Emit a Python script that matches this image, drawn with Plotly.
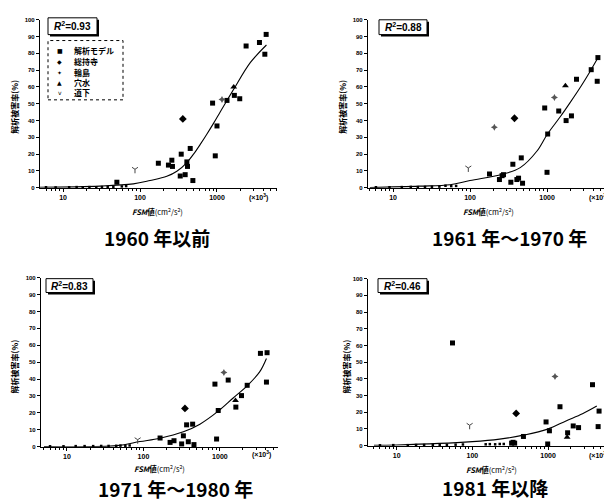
import plotly.graph_objects as go

# ---------------- data ----------------
panel_titles = ["1960 年以前", "1961 年～1970 年", "1971 年～1980 年", "1981 年以降"]
r2_labels = ["0.93", "0.88", "0.83", "0.46"]
series_names = ["解析モデル", "総持寺", "輪島", "穴水", "道下"]
x_tick_vals = [10, 100, 1000]
x_tick_text = ["10", "100", "1000"]
y_tick_vals = [0, 10, 20, 30, 40, 50, 60, 70, 80, 90, 100]

# panel 1 : 1960 and before
p1_model_x = [50, 173, 234, 259, 264, 343, 333, 386, 406, 414, 449, 486, 877, 950, 1000, 1349, 1682, 1976, 2390, 3565, 4357, 4188]
p1_model_y = [3.3, 14.6, 13.5, 16.4, 12.7, 20, 7.0, 7.8, 15.4, 12.7, 23.4, 4.3, 50.4, 19, 36.8, 52, 55, 53, 84.4, 86.5, 91.3, 79.5]
p1_soji_x, p1_soji_y = [360], [41]
p1_wajima_x, p1_wajima_y = [1162], [52.5]
p1_anamizu_x, p1_anamizu_y = [1650], [60]
p1_doge_x, p1_doge_y = [86], [11]
p1_zero_x = [6, 8, 12, 15, 18, 22, 27, 32, 38, 45, 58, 66]
p1_zero_y = [0.3, 0.2, 0.3, 0.4, 0.3, 0.4, 0.3, 0.5, 0.4, 0.6, 0.8, 1.0]
p1_curve_x = [5, 30, 82, 135, 223, 301, 406, 496, 606, 741, 905, 1105, 1349, 1648, 2722, 4395]
p1_curve_y = [0.3, 1.0, 2.3, 4.3, 6.8, 9.8, 15, 20, 25.8, 32, 38.5, 45.3, 52, 58.6, 74.6, 85]

# panel 2 : 1961-1970
p2_model_x = [179, 241, 261, 272, 339, 360, 406, 427, 481, 463, 933, 1000, 1020, 1419, 1770, 2076, 2414, 3750, 4487, 4580]
p2_model_y = [8.2, 4.9, 7.2, 7.8, 3.3, 14, 4.9, 5.7, 2.7, 17.8, 47.5, 9.2, 32, 45.7, 40, 42.8, 64.6, 70.3, 63.4, 77.5]
p2_soji_x, p2_soji_y = [378], [41.4]
p2_wajima_x, p2_wajima_y = [207, 1248], [36, 53.8]
p2_anamizu_x, p2_anamizu_y = [1734], [60.8]
p2_doge_x, p2_doge_y = [95], [11.8]
p2_zero_x = [6, 9, 13, 17, 21, 26, 32, 40, 48, 57, 66]
p2_zero_y = [0.3, 0.3, 0.4, 0.5, 0.4, 0.5, 0.6, 0.7, 1.2, 1.0, 1.1]
p2_curve_x = [5, 22, 55, 100, 272, 449, 741, 1000, 1493, 2014, 2722, 3673, 4487]
p2_curve_y = [0.2, 1.0, 1.8, 4.3, 8.2, 12, 21.9, 31.6, 42.4, 51, 60, 69.7, 76.6]

# panel 3 : 1971-1980
p3_model_x = [165, 223, 251, 316, 333, 367, 386, 440, 458, 861, 905, 951, 1284, 1617, 1918, 2275, 3390, 4140, 4064]
p3_model_y = [5.1, 2.5, 3.5, 1.6, 6.4, 12.9, 2.9, 13.3, 1.2, 37, 4.5, 21.4, 39.4, 23.4, 30.2, 36.3, 55.2, 55.6, 38.2]
p3_soji_x, p3_soji_y = [349], [22.6]
p3_wajima_x, p3_wajima_y = [1128], [43.9]
p3_anamizu_x, p3_anamizu_y = [1600], [27.3]
p3_doge_x, p3_doge_y = [84], [4.1]
p3_zero_x = [6, 9, 13, 17, 22, 28, 35, 44, 50, 58, 66]
p3_zero_y = [0.2, 0.2, 0.3, 0.3, 0.3, 0.4, 0.4, 0.5, 0.6, 0.5, 0.7]
p3_curve_x = [5, 45, 90, 165, 333, 548, 951, 1493, 2344, 3327, 4064]
p3_curve_y = [0.1, 0.6, 3.0, 5.0, 8.8, 13.3, 21, 28.8, 36.6, 44.4, 52.2]

# panel 4 : 1981 and after
p4_model_x = [54.6, 473, 942, 1043, 990, 1439, 1815, 2153, 2533, 3873, 4596, 4730, 330, 345, 362]
p4_model_y = [61.5, 5.5, 14.2, 8.9, 1.0, 23.3, 7.7, 11.8, 10.8, 36.5, 11.4, 20.7, 1.5, 2.0, 1.5]
p4_soji_x, p4_soji_y = [379], [19.3]
p4_wajima_x, p4_wajima_y = [1236], [41.4]
p4_anamizu_x, p4_anamizu_y = [1790], [5.0]
p4_doge_x, p4_doge_y = [92], [12.2]
p4_zero_x = [6, 9, 14, 18, 23, 30, 37, 46, 60, 75, 150, 170, 200, 230, 260]
p4_zero_y = [0.2, 0.3, 0.3, 0.4, 0.4, 0.5, 0.4, 0.5, 0.6, 0.7, 0.8, 0.9, 0.8, 1.0, 1.0]
p4_curve_x = [5, 10, 100, 229, 473, 990, 1727, 2857, 4413]
p4_curve_y = [0.2, 0.4, 2.4, 3.9, 6.3, 9.9, 14.8, 19.1, 23.7]

panels_data = [
    dict(model=(p1_model_x, p1_model_y), soji=(p1_soji_x, p1_soji_y), wajima=(p1_wajima_x, p1_wajima_y),
         anamizu=(p1_anamizu_x, p1_anamizu_y), doge=(p1_doge_x, p1_doge_y), zero=(p1_zero_x, p1_zero_y),
         curve=(p1_curve_x, p1_curve_y)),
    dict(model=(p2_model_x, p2_model_y), soji=(p2_soji_x, p2_soji_y), wajima=(p2_wajima_x, p2_wajima_y),
         anamizu=(p2_anamizu_x, p2_anamizu_y), doge=(p2_doge_x, p2_doge_y), zero=(p2_zero_x, p2_zero_y),
         curve=(p2_curve_x, p2_curve_y)),
    dict(model=(p3_model_x, p3_model_y), soji=(p3_soji_x, p3_soji_y), wajima=(p3_wajima_x, p3_wajima_y),
         anamizu=(p3_anamizu_x, p3_anamizu_y), doge=(p3_doge_x, p3_doge_y), zero=(p3_zero_x, p3_zero_y),
         curve=(p3_curve_x, p3_curve_y)),
    dict(model=(p4_model_x, p4_model_y), soji=(p4_soji_x, p4_soji_y), wajima=(p4_wajima_x, p4_wajima_y),
         anamizu=(p4_anamizu_x, p4_anamizu_y), doge=(p4_doge_x, p4_doge_y), zero=(p4_zero_x, p4_zero_y),
         curve=(p4_curve_x, p4_curve_y)),
]

# ---------------- layout geometry (pixels) ----------------
W, H = 604, 502
def px(x):
    return x / W
def py(y):
    return 1 - y / H

# left, right, top, bottom pixel box and log-range of x axis
geom = [
    dict(l=40, r=277, t=17, b=187, xr=[0.70, 3.78]),
    dict(l=368, r=604, t=17, b=187, xr=[0.675, 3.74]),
    dict(l=41, r=278, t=278, b=449, xr=[0.66, 3.76]),
    dict(l=368, r=604, t=279, b=448, xr=[0.62, 3.74]),
]
minor_vals = [d * 10 ** k for k in range(0, 4) for d in range(2, 10)]

JP = "Noto Sans CJK JP"
LAT = "Liberation Sans"

fig = go.Figure()
layout = dict(width=W, height=H, margin=dict(l=0, r=0, t=0, b=0),
              paper_bgcolor="white", plot_bgcolor="white", showlegend=False)

styles = {
    "model": dict(symbol="square", size=5, color="black"),
    "soji": dict(symbol="diamond", size=6, color="black"),
    "wajima": dict(symbol="star-diamond", size=5, color="#555555"),
    "anamizu": dict(symbol="triangle-up", size=6, color="black"),
    "doge": dict(symbol="y-down-open", size=5, color="#444444"),
}
names = dict(zip(["model", "soji", "wajima", "anamizu", "doge"], series_names))

for i, (pd_, g) in enumerate(zip(panels_data, geom)):
    n = i + 1
    xa = "x" if n == 1 else f"x{n}"
    ya = "y" if n == 1 else f"y{n}"
    cx, cy = pd_["curve"]
    fig.add_trace(go.Scatter(x=cx, y=cy, mode="lines", line=dict(color="black", width=1.1, shape="spline"),
                             xaxis=xa, yaxis=ya, name="回帰曲線", cliponaxis=False))
    zx, zy = pd_["zero"]
    fig.add_trace(go.Scatter(x=zx, y=zy, mode="markers", marker=dict(symbol="square", size=2.5, color="black"),
                             xaxis=xa, yaxis=ya, name=series_names[0], cliponaxis=False))
    for key in ["model", "soji", "wajima", "anamizu", "doge"]:
        sx, sy = pd_[key]
        st = styles[key]
        mk = dict(symbol=st["symbol"], size=st["size"], color=st["color"])
        if st["symbol"].endswith("open"):
            mk["line"] = dict(color=st["color"], width=1)
        fig.add_trace(go.Scatter(x=sx, y=sy, mode="markers", marker=mk, xaxis=xa, yaxis=ya,
                                 name=names[key], cliponaxis=False))
    xkey = "xaxis" if n == 1 else f"xaxis{n}"
    ykey = "yaxis" if n == 1 else f"yaxis{n}"
    layout[xkey] = dict(type="log", range=g["xr"], domain=[px(g["l"]), px(g["r"])], anchor=ya,
                        showline=True, linecolor="black", linewidth=1.2, ticks="outside", ticklen=3,
                        tickcolor="black", tickvals=x_tick_vals, ticktext=x_tick_text,
                        tickfont=dict(family=LAT, size=7, color="black", weight="bold"),
                        showgrid=False, zeroline=False,
                        minor=dict(tickvals=minor_vals, ticks="outside", ticklen=2, tickcolor="black",
                                   showgrid=False))
    layout[ykey] = dict(range=[0, 100], domain=[py(g["b"]), py(g["t"])], anchor=xa,
                        showline=True, linecolor="black", linewidth=1.2, ticks="outside", ticklen=3,
                        tickcolor="black", tickvals=y_tick_vals,
                        tickfont=dict(family=LAT, size=6, color="black", weight="bold"),
                        showgrid=False, zeroline=False)

annotations = []
shapes = []

# R^2 boxes
r2_boxes = [(48, 15, 97, 32), (379, 17, 427, 32), (46, 279, 93, 293), (378, 279, 427, 293)]
for (x0, y0, x1, y1), lab in zip(r2_boxes, r2_labels):
    shapes.append(dict(type="rect", xref="paper", yref="paper", x0=px(x0 + 2), x1=px(x1 + 2),
                       y0=py(y1 + 2), y1=py(y0 + 2), fillcolor="black", line=dict(width=0)))
    shapes.append(dict(type="rect", xref="paper", yref="paper", x0=px(x0), x1=px(x1),
                       y0=py(y1), y1=py(y0), fillcolor="white", line=dict(color="black", width=1)))
    annotations.append(dict(xref="paper", yref="paper", x=px((x0 + x1) / 2), y=py((y0 + y1) / 2),
                            text=f"<i>R</i><sup>2</sup>=<b>{lab}</b>", showarrow=False,
                            font=dict(family=LAT, size=10, color="black", weight="bold"),
                            xanchor="center", yanchor="middle"))

# legend (panel 1) drawn as dotted box with text entries
shapes.append(dict(type="rect", xref="paper", yref="paper", x0=px(48), x1=px(123), y0=py(98), y1=py(38),
                   line=dict(color="black", width=1, dash="dot")))
legend_syms = ["■", "◆", "✦", "▲", "v"]
legend_rows = [48.5, 59.5, 70, 80.5, 91]
for sym, nm, yy in zip(legend_syms, series_names, legend_rows):
    annotations.append(dict(xref="paper", yref="paper", x=px(60), y=py(yy), text=sym, showarrow=False,
                            font=dict(family="DejaVu Sans", size=6, color="black"),
                            xanchor="center", yanchor="middle"))
    annotations.append(dict(xref="paper", yref="paper", x=px(72), y=py(yy), text=f"<b>{nm}</b>",
                            showarrow=False, font=dict(family=JP, size=8, color="black"),
                            xanchor="left", yanchor="middle"))

# axis titles, unit labels and panel titles
ytitle_pos = [(15, 105), (343, 105), (15, 368), (347, 368)]
xtitle_pos = [(157, 211), (488, 211), (159, 471), (491, 472)]
unit_pos = [(258, 197), (598, 197), (261, 457), (598, 458)]
title_pos = [(157, 237), (509, 237), (175, 491), (495, 490)]
for k in range(4):
    annotations.append(dict(xref="paper", yref="paper", x=px(ytitle_pos[k][0]), y=py(ytitle_pos[k][1]),
                            text="<b>解析被害率(%)</b>", textangle=-90, showarrow=False,
                            font=dict(family=JP, size=8, color="black"),
                            xanchor="center", yanchor="middle"))
    annotations.append(dict(xref="paper", yref="paper", x=px(xtitle_pos[k][0]), y=py(xtitle_pos[k][1]),
                            text="<b><i>FSM</i>値</b>(cm<sup>2</sup>/s<sup>2</sup>)", showarrow=False,
                            font=dict(family=JP, size=7.5, color="black"),
                            xanchor="center", yanchor="middle"))
    annotations.append(dict(xref="paper", yref="paper", x=px(unit_pos[k][0]), y=py(unit_pos[k][1]),
                            text="(×10<sup>3</sup>)", showarrow=False,
                            font=dict(family=LAT, size=7, color="black", weight="bold"),
                            xanchor="center", yanchor="middle"))
    annotations.append(dict(xref="paper", yref="paper", x=px(title_pos[k][0]), y=py(title_pos[k][1]),
                            text=f"<b>{panel_titles[k]}</b>", showarrow=False,
                            font=dict(family=JP, size=19, color="black"),
                            xanchor="center", yanchor="middle"))

layout["annotations"] = annotations
layout["shapes"] = shapes
fig.update_layout(**layout)
fig.write_html("out.html", config={"displayModeBar": False},
               post_script="document.body.style.margin='0';document.body.style.overflow='hidden';")
